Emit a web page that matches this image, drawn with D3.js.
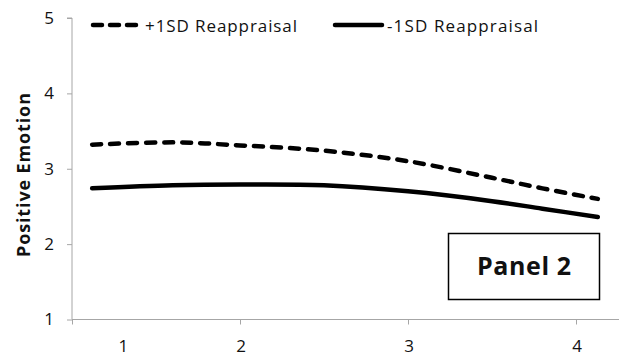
<!DOCTYPE html>
<html>
<head>
<meta charset="utf-8">
<script src="https://cdn.jsdelivr.net/npm/d3@7"></script>
<style>
  body { margin: 0; background: #fff; }
  text { font-family: "Open Sans", sans-serif; fill: #111; }
</style>
</head>
<body>
<div id="chart"></div>
<script>
// values
const xValues = [1.12, 1.6, 2, 2.5, 3, 3.5, 3.8, 4.13]
const plusSD = [3.32, 3.35, 3.31, 3.24, 3.10, 2.88, 2.74, 2.60]
const minusSD = [2.74, 2.78, 2.79, 2.78, 2.70, 2.57, 2.47, 2.36]
const yTicks = [1, 2, 3, 4, 5]
const xTicks = [1, 2, 3, 4]
const xTickLabels = [{ v: 1.3, t: "1" }, { v: 2, t: "2" }, { v: 3, t: "3" }, { v: 4, t: "4" }]
const seriesNames = ["+1SD Reappraisal", "-1SD Reappraisal"]

const width = 619, height = 358

const svg = d3.select("#chart").append("svg")
  .attr("width", width)
  .attr("height", height)

const x = d3.scaleLinear().domain([1, 4]).range([72, 576])
const y = d3.scaleLinear().domain([1, 5]).range([319.5, 18])

const axisColor = "#a6a6a6"

// y axis
const yAxis = svg.append("g").attr("transform", "translate(72,0)")
  .call(d3.axisLeft(y).tickValues(yTicks).tickSize(5).tickPadding(13).tickFormat(d3.format("d")))
yAxis.select(".domain").attr("stroke", axisColor).attr("d", `M-5,${y(5)}H0V${y(1)}`)
yAxis.selectAll(".tick line").attr("stroke", axisColor)
yAxis.selectAll(".tick text").style("font-size", "17px").attr("fill", "#111")

// x axis
const xAxis = svg.append("g").attr("transform", `translate(0,${y(1)})`)
  .call(d3.axisBottom(x).tickValues(xTicks).tickSize(5).tickFormat(""))
xAxis.select(".domain").attr("stroke", axisColor).attr("d", `M72,0H${width}`)
xAxis.selectAll(".tick line").attr("stroke", axisColor)

svg.append("g").selectAll("text")
  .data(xTickLabels)
  .join("text")
  .attr("x", d => x(d.v) + 1)
  .attr("y", 352)
  .attr("text-anchor", "middle")
  .style("font-size", "17px")
  .text(d => d.t)

// y label
svg.append("text")
  .attr("transform", "translate(30,175) rotate(-90)")
  .attr("text-anchor", "middle")
  .style("font-size", "18px")
  .style("font-weight", "bold")
  .attr("textLength", 164)
  .text("Positive Emotion")

// lines
const line = d3.line()
  .x((d, i) => x(xValues[i]))
  .y(d => y(d))
  .curve(d3.curveCatmullRom)

svg.append("path")
  .datum(plusSD)
  .attr("d", line)
  .attr("fill", "none")
  .attr("stroke", "#000")
  .attr("stroke-width", 4.5)
  .attr("stroke-linecap", "round")
  .attr("stroke-dasharray", "9,9")

svg.append("path")
  .datum(minusSD)
  .attr("d", line)
  .attr("fill", "none")
  .attr("stroke", "#000")
  .attr("stroke-width", 4.5)
  .attr("stroke-linecap", "round")

// legend
const legend = svg.append("g")
legend.append("line")
  .attr("x1", 93).attr("x2", 136).attr("y1", 25).attr("y2", 25)
  .attr("stroke", "#000").attr("stroke-width", 4.5)
  .attr("stroke-linecap", "round").attr("stroke-dasharray", "9,8")
legend.append("text")
  .attr("x", 145).attr("y", 32)
  .style("font-size", "17px")
  .attr("textLength", 152)
  .text(seriesNames[0])
legend.append("line")
  .attr("x1", 335).attr("x2", 382).attr("y1", 25).attr("y2", 25)
  .attr("stroke", "#000").attr("stroke-width", 4.5)
  .attr("stroke-linecap", "round")
legend.append("text")
  .attr("x", 387).attr("y", 32)
  .style("font-size", "17px")
  .attr("textLength", 151)
  .text(seriesNames[1])

// panel box
svg.append("rect")
  .attr("x", 448.5).attr("y", 233.5)
  .attr("width", 151).attr("height", 66)
  .attr("fill", "#fff").attr("stroke", "#000").attr("stroke-width", 1.5)
svg.append("text")
  .attr("x", 524).attr("y", 275)
  .attr("text-anchor", "middle")
  .style("font-size", "25px")
  .style("font-weight", "bold")
  .attr("textLength", 94)
  .text("Panel 2")
</script>
</body>
</html>
